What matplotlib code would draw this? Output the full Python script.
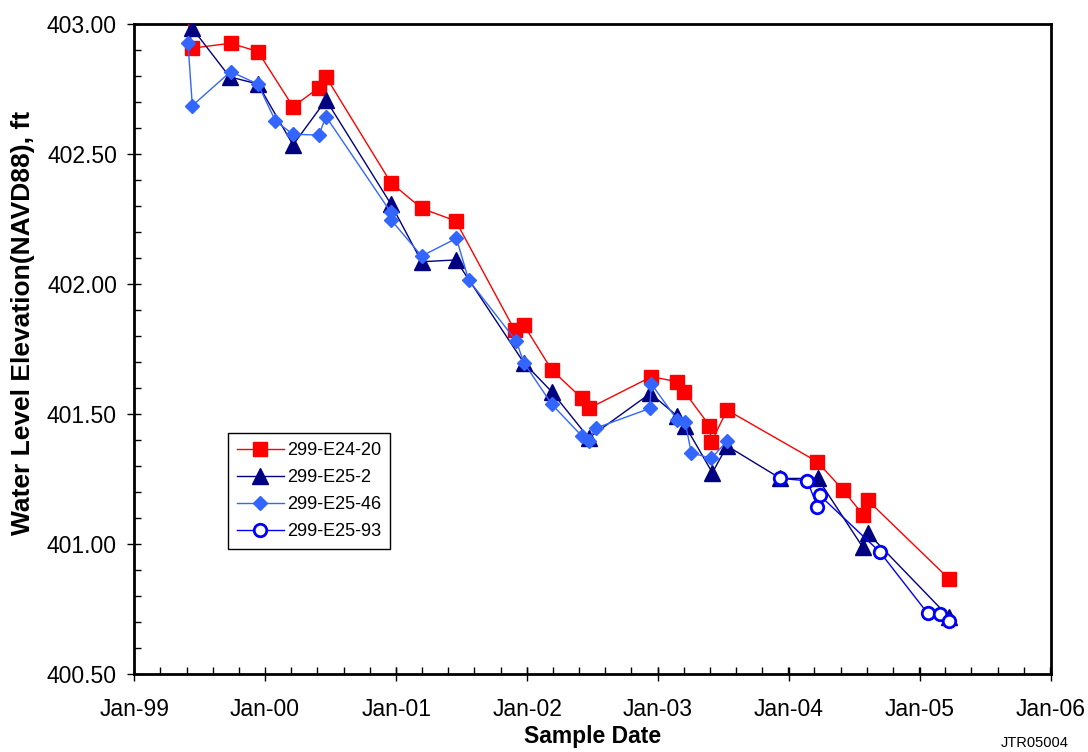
import matplotlib
matplotlib.use("Agg")
import matplotlib.pyplot as plt
import matplotlib.dates as mdates
from matplotlib.ticker import AutoMinorLocator, MultipleLocator, FormatStrFormatter
import pandas as pd

plt.rcParams['font.family'] = ['Liberation Sans', 'DejaVu Sans']

# ---- data ----
e24_20_dates = ["1999-05-28", "1999-06-12", "1999-09-27", "1999-12-12", "2000-03-19", "2000-05-30",
                "2000-06-19", "2000-12-17", "2001-03-13", "2001-06-16", "2001-11-27", "2001-12-23",
                "2002-03-11", "2002-06-03", "2002-06-22", "2002-12-14", "2003-02-24", "2003-03-16",
                "2003-05-25", "2003-05-30", "2003-07-13", "2004-03-21", "2004-06-01", "2004-07-27",
                "2004-08-08", "2005-03-24"]
e24_20_vals = [403.04, 402.907, 402.926, 402.894, 402.682, 402.755,
               402.797, 402.390, 402.291, 402.243, 401.824, 401.843,
               401.670, 401.561, 401.522, 401.644, 401.625, 401.586,
               401.456, 401.392, 401.516, 401.317, 401.208, 401.112,
               401.170, 400.866]

e25_2_dates = ["1999-06-12", "1999-09-24", "1999-12-12", "2000-03-19", "2000-06-19", "2000-12-17",
               "2001-03-13", "2001-06-16", "2001-12-23", "2002-03-11", "2002-06-22", "2002-12-11",
               "2003-02-24", "2003-03-18", "2003-06-02", "2003-07-13", "2003-12-09", "2004-03-22",
               "2004-07-25", "2004-08-08", "2005-03-23"]
e25_2_vals = [402.983, 402.797, 402.769, 402.535, 402.708, 402.308,
              402.086, 402.093, 401.698, 401.586, 401.409, 401.580,
              401.493, 401.456, 401.275, 401.378, 401.253, 401.253,
              400.990, 401.044, 400.720]

e25_46_dates = ["1999-05-31", "1999-06-12", "1999-09-27", "1999-12-12", "2000-01-30", "2000-03-19",
                "2000-05-30", "2000-06-19", "2000-12-16", "2000-12-18", "2001-03-13", "2001-06-18",
                "2001-07-22", "2001-12-02", "2001-12-23", "2002-03-11", "2002-06-03", "2002-06-22",
                "2002-07-11", "2002-12-09", "2002-12-14", "2003-02-24", "2003-03-18", "2003-04-04",
                "2003-05-30", "2003-07-13"]
e25_46_vals = [402.926, 402.686, 402.817, 402.769, 402.627, 402.576,
               402.573, 402.644, 402.278, 402.246, 402.108, 402.176,
               402.016, 401.781, 401.698, 401.538, 401.416, 401.397,
               401.446, 401.522, 401.616, 401.478, 401.471, 401.352,
               401.330, 401.397]

e25_93_dates = ["2003-12-09", "2004-02-22", "2004-03-21", "2004-03-27", "2004-09-11",
                "2005-01-23", "2005-02-26", "2005-03-24"]
e25_93_vals = [401.253, 401.244, 401.144, 401.189, 400.971,
               400.734, 400.730, 400.706]

series_names = ["299-E24-20", "299-E25-2", "299-E25-46", "299-E25-93"]
y_ticks = [400.50, 401.00, 401.50, 402.00, 402.50, 403.00]
x_tick_years = [1999, 2000, 2001, 2002, 2003, 2004, 2005, 2006]

# ---- figure ----
fig = plt.figure(figsize=(10.88, 7.52), dpi=100)
ax = fig.add_axes([0.1234, 0.1033, 0.8423, 0.8648])

def d(lst):
    return pd.to_datetime(lst)

ax.plot(d(e24_20_dates), e24_20_vals, color='#FF0000', lw=1.0, marker='s', ms=10.5,
        mfc='#FF0000', mec='#FF0000', label=series_names[0], zorder=3)
ax.plot(d(e25_2_dates), e25_2_vals, color='#000080', lw=1.0, marker='^', ms=11,
        mfc='#000080', mec='#000080', label=series_names[1], zorder=4)
ax.plot(d(e25_46_dates), e25_46_vals, color='#3366FF', lw=1.0, marker='D', ms=7.5,
        mfc='#3366FF', mec='#3366FF', label=series_names[2], zorder=5)
ax.plot(d(e25_93_dates), e25_93_vals, color='#0000FF', lw=1.0, marker='o', ms=9,
        mfc='white', mec='#0000FF', mew=2, label=series_names[3], zorder=6)

ax.set_ylim(y_ticks[0], y_ticks[-1])
ax.set_xlim(pd.Timestamp(f"{x_tick_years[0]}-01-01"), pd.Timestamp(f"{x_tick_years[-1]}-01-01"))

ax.xaxis.set_major_locator(mdates.YearLocator())
ax.xaxis.set_major_formatter(mdates.DateFormatter('Jan-%y'))
ax.xaxis.set_minor_locator(AutoMinorLocator(5))
ax.set_yticks(y_ticks)
ax.yaxis.set_minor_locator(MultipleLocator(0.1))
ax.yaxis.set_major_formatter(FormatStrFormatter('%.2f'))

ax.tick_params(axis='both', which='major', direction='inout', length=10, width=1.0,
               labelsize=16.5, colors='black')
ax.tick_params(axis='x', which='major', pad=12)
ax.tick_params(axis='y', which='major', pad=7.5)
ax.tick_params(axis='both', which='minor', direction='in', length=5, width=1.0)

for s in ax.spines.values():
    s.set_linewidth(2.0)
    s.set_color('black')

ax.set_xlabel('Sample Date', fontsize=16.5, fontweight='bold', va='top')
ax.xaxis.set_label_coords(0.5, -0.078)
ax.set_ylabel('Water Level Elevation(NAVD88), ft', fontsize=19, fontweight='bold', va='center')
ax.yaxis.set_label_coords(-0.1215, 0.541)

leg = ax.legend(loc='lower left', bbox_to_anchor=(0.102, 0.1927), fontsize=13,
                frameon=True, fancybox=False, edgecolor='black', framealpha=1,
                handlelength=2.6, borderpad=0.5, labelspacing=0.55, handletextpad=0.2,
                borderaxespad=0)
leg.get_frame().set_linewidth(1.0)

fig.text(0.9825, 0.003, 'JTR05004', fontsize=10.5, ha='right', va='bottom')

fig.savefig('out.png', dpi=100)
